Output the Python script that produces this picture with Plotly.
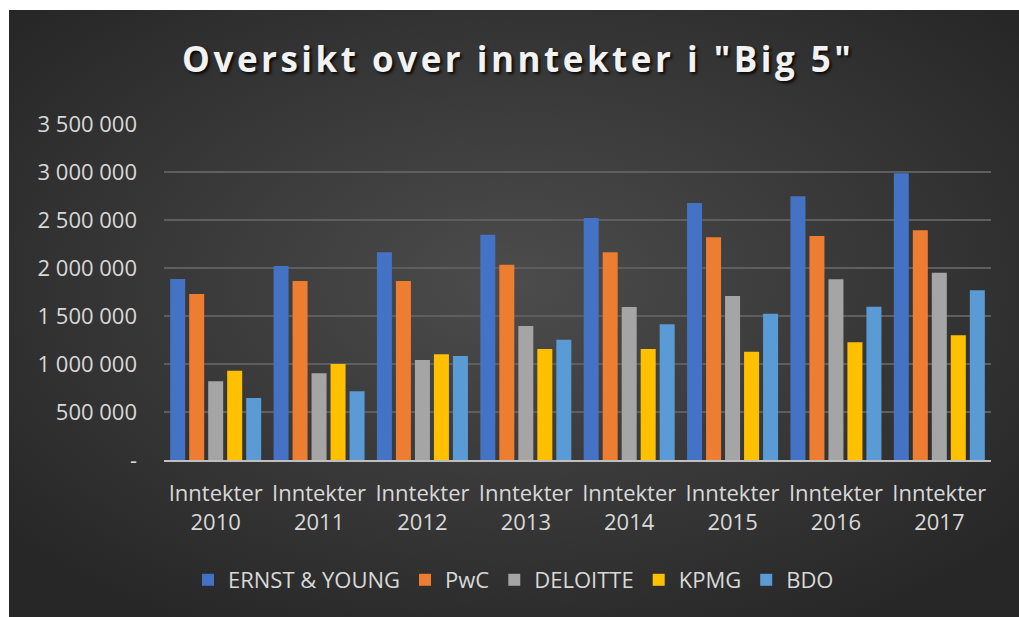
import base64
import plotly.graph_objects as go

categories = ["Inntekter<br>2010", "Inntekter<br>2011", "Inntekter<br>2012", "Inntekter<br>2013",
              "Inntekter<br>2014", "Inntekter<br>2015", "Inntekter<br>2016", "Inntekter<br>2017"]

ernst_young = [1885000, 2021000, 2163000, 2347000, 2521000, 2677000, 2747000, 2986000]
pwc = [1729000, 1865000, 1865000, 2035000, 2163000, 2320000, 2333000, 2392000]
deloitte = [820000, 903000, 1042000, 1396000, 1594000, 1708000, 1882000, 1951000]
kpmg = [930000, 1000000, 1101000, 1156000, 1156000, 1128000, 1226000, 1299000]
bdo = [646000, 715000, 1083000, 1253000, 1413000, 1524000, 1597000, 1768000]

series_names = ["ERNST & YOUNG", "PwC", "DELOITTE", "KPMG", "BDO"]
series_values = [ernst_young, pwc, deloitte, kpmg, bdo]
series_colors = ["#4472C4", "#ED7D31", "#A5A5A5", "#FFC000", "#5B9BD5"]

y_tickvals = [0, 500000, 1000000, 1500000, 2000000, 2500000, 3000000, 3500000]
y_ticktext = ["-", "500 000", "1 000 000", "1 500 000", "2 000 000", "2 500 000", "3 000 000", "3 500 000"]

title_text = 'Oversikt over inntekter i "Big 5"'

FONT = "Open Sans"

fig = go.Figure()
for name, vals, col in zip(series_names, series_values, series_colors):
    fig.add_trace(go.Bar(name=name, x=categories, y=vals, marker=dict(color=col, line=dict(width=0))))

svg = ("<svg xmlns='http://www.w3.org/2000/svg' width='1010' height='607' preserveAspectRatio='none'>"
       "<defs><radialGradient id='g' cx='50%' cy='45%' r='65%'>"
       "<stop offset='0' stop-color='#4c4c4c'/><stop offset='1' stop-color='#272727'/>"
       "</radialGradient></defs><rect width='1010' height='607' fill='url(#g)'/></svg>")
src = "data:image/svg+xml;base64," + base64.b64encode(svg.encode()).decode()

L, R, T, B = 164, 991, 124, 460
W, H = 1019, 617
pw, ph = R - L, B - T
def px_x(p):
    return (p - L) / pw
def px_y(p):
    return (B - p) / ph

fig.add_layout_image(dict(source=src, xref="paper", yref="paper",
                          x=px_x(9), y=px_y(10), sizex=(W - 9) / pw, sizey=(H - 10) / ph,
                          xanchor="left", yanchor="top", sizing="stretch", layer="below"))

# letter-spaced title (hair spaces between characters)
spaced_title = "\u200a".join(title_text)

fig.update_layout(
    width=W, height=H,
    margin=dict(l=L, r=W - R, t=T, b=H - B, pad=0),
    paper_bgcolor="white",
    plot_bgcolor="rgba(0,0,0,0)",
    barmode="group", bargap=0.081, bargroupgap=0.21,
    title=dict(text=spaced_title, x=516.5 / W, xref="container", xanchor="center",
               y=1 - 60 / H, yref="container", yanchor="middle",
               font=dict(family=FONT, size=35, color="#f2f2f2", weight="bold",
                         shadow="2px 2px 3px rgba(0,0,0,0.85)")),
    font=dict(family=FONT, color="#d9d9d9"),
    xaxis=dict(showline=True, linecolor="#bfbfbf", linewidth=2, ticks="",
               tickfont=dict(family=FONT, size=22, color="#d9d9d9"), ticklabelstandoff=13,
               showgrid=False),
    yaxis=dict(range=[0, 3500000], tickvals=y_tickvals, ticktext=y_ticktext,
               showgrid=True, gridcolor="#5e5e5e", gridwidth=1.5, zeroline=False,
               tickfont=dict(family=FONT, size=22, color="#d9d9d9"), ticklabelstandoff=26,
               showline=False, ticks=""),
    legend=dict(orientation="h", x=px_x(188), xanchor="left", y=px_y(580), yanchor="middle",
                font=dict(family=FONT, size=22, color="#d9d9d9"), bgcolor="rgba(0,0,0,0)",
                traceorder="normal", itemclick=False),
)

fig.write_html("out.html")
